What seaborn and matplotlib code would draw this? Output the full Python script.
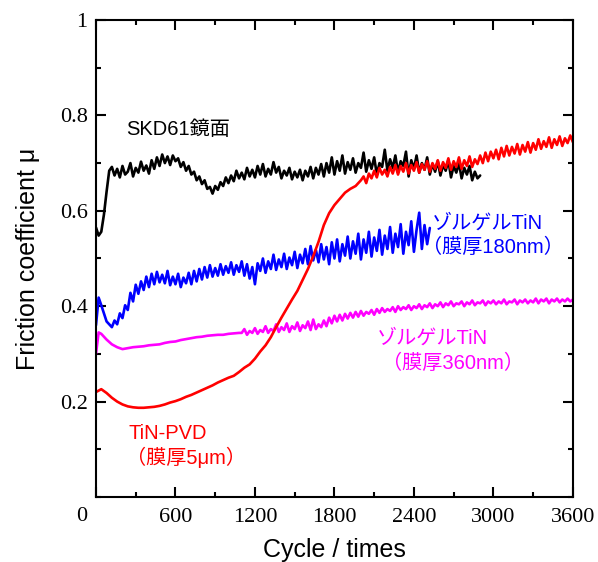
import matplotlib
matplotlib.use("Agg")
import matplotlib.pyplot as plt
import seaborn as sns
import pandas as pd
from matplotlib.ticker import MultipleLocator

# ---------------- data ----------------
# SKD61 mirror: sampled every 20 cycles from 0
skd_step = 20
skd_y = [0.565, 0.548, 0.556, 0.592, 0.640, 0.684, 0.692, 0.674, 0.688, 0.670,
         0.694, 0.676, 0.682, 0.700, 0.672, 0.690, 0.680, 0.703, 0.684, 0.695,
         0.678, 0.706, 0.688, 0.712, 0.694, 0.718, 0.700, 0.714, 0.696, 0.716,
         0.704, 0.710, 0.692, 0.702, 0.684, 0.694, 0.676, 0.682, 0.664, 0.672,
         0.656, 0.664, 0.646, 0.650, 0.636, 0.652, 0.644, 0.660, 0.652, 0.670,
         0.658, 0.674, 0.662, 0.684, 0.668, 0.680, 0.666, 0.690, 0.672, 0.686,
         0.670, 0.694, 0.676, 0.698, 0.672, 0.688, 0.676, 0.702, 0.680, 0.692,
         0.668, 0.684, 0.674, 0.690, 0.666, 0.682, 0.670, 0.686, 0.664, 0.684,
         0.672, 0.692, 0.668, 0.690, 0.676, 0.698, 0.672, 0.700, 0.680, 0.712,
         0.676, 0.704, 0.684, 0.716, 0.678, 0.702, 0.686, 0.710, 0.680, 0.700,
         0.690, 0.722, 0.682, 0.706, 0.688, 0.712, 0.676, 0.700, 0.692, 0.728,
         0.684, 0.708, 0.690, 0.716, 0.680, 0.704, 0.694, 0.724, 0.672, 0.706,
         0.688, 0.716, 0.680, 0.700, 0.686, 0.712, 0.676, 0.698, 0.682, 0.704,
         0.674, 0.696, 0.684, 0.706, 0.670, 0.694, 0.680, 0.700, 0.668, 0.690,
         0.676, 0.694, 0.664, 0.682, 0.668, 0.674]

# Sol-gel TiN 180 nm: sampled every 20 cycles from 0
sg180_step = 20
sg180_y = [0.360, 0.418, 0.402, 0.385, 0.368, 0.362, 0.356, 0.370, 0.362, 0.385,
           0.375, 0.402, 0.392, 0.428, 0.410, 0.445, 0.426, 0.452, 0.434, 0.462,
           0.440, 0.468, 0.446, 0.472, 0.450, 0.466, 0.448, 0.474, 0.444, 0.462,
           0.446, 0.468, 0.440, 0.460, 0.448, 0.470, 0.446, 0.474, 0.452, 0.478,
           0.456, 0.482, 0.460, 0.486, 0.462, 0.480, 0.464, 0.488, 0.466, 0.484,
           0.470, 0.492, 0.466, 0.486, 0.472, 0.494, 0.464, 0.488, 0.458, 0.482,
           0.446, 0.490, 0.474, 0.500, 0.470, 0.494, 0.478, 0.508, 0.476, 0.498,
           0.482, 0.510, 0.478, 0.502, 0.486, 0.514, 0.480, 0.508, 0.490, 0.520,
           0.488, 0.526, 0.496, 0.518, 0.492, 0.530, 0.498, 0.524, 0.488, 0.534,
           0.500, 0.540, 0.494, 0.530, 0.506, 0.546, 0.500, 0.536, 0.510, 0.552,
           0.498, 0.540, 0.512, 0.556, 0.504, 0.544, 0.516, 0.560, 0.508, 0.548,
           0.520, 0.566, 0.512, 0.552, 0.524, 0.572, 0.510, 0.556, 0.528, 0.578,
           0.514, 0.560, 0.596, 0.520, 0.570, 0.530, 0.564]

# Sol-gel TiN 360 nm: early part read at irregular cycles, later every 20 cycles
sg360_early_x = [0, 20, 40, 80, 120, 160, 200, 240, 280, 320, 360, 400, 440, 480,
                 520, 560, 600, 640, 680, 720, 760, 800, 840, 880, 920, 960, 1000,
                 1040, 1080]
sg360_early_y = [0.300, 0.345, 0.342, 0.330, 0.320, 0.314, 0.310, 0.312, 0.314,
                 0.315, 0.316, 0.318, 0.319, 0.320, 0.323, 0.325, 0.326, 0.329,
                 0.331, 0.333, 0.335, 0.336, 0.338, 0.339, 0.340, 0.340, 0.342,
                 0.343, 0.344]
sg360_late_start = 1100
sg360_late_step = 20
sg360_late_y = [0.344, 0.352, 0.340, 0.348, 0.344, 0.354, 0.342, 0.350, 0.346, 0.358,
                0.344, 0.352, 0.348, 0.362, 0.346, 0.356, 0.350, 0.364, 0.346, 0.358,
                0.352, 0.366, 0.348, 0.360, 0.354, 0.368, 0.350, 0.372, 0.352, 0.362,
                0.356, 0.370, 0.358, 0.376, 0.364, 0.380, 0.368, 0.382, 0.370, 0.384,
                0.374, 0.386, 0.376, 0.388, 0.378, 0.390, 0.380, 0.388, 0.384, 0.392,
                0.382, 0.394, 0.386, 0.396, 0.388, 0.394, 0.390, 0.398, 0.388, 0.400,
                0.392, 0.398, 0.394, 0.402, 0.392, 0.400, 0.396, 0.404, 0.394, 0.402,
                0.398, 0.406, 0.396, 0.404, 0.400, 0.408, 0.398, 0.406, 0.402, 0.410,
                0.400, 0.406, 0.404, 0.410, 0.400, 0.408, 0.404, 0.412, 0.402, 0.408,
                0.406, 0.412, 0.402, 0.410, 0.406, 0.412, 0.404, 0.410, 0.406, 0.414,
                0.404, 0.410, 0.408, 0.414, 0.404, 0.412, 0.408, 0.414, 0.406, 0.412,
                0.408, 0.416, 0.406, 0.414, 0.410, 0.416, 0.406, 0.414, 0.410, 0.416,
                0.408, 0.414, 0.410, 0.416, 0.410, 0.414]

# TiN-PVD: smooth part every 40 cycles, noisy part every 20 cycles
pvd_early_x = [0, 40, 80, 120, 160, 200, 240, 280, 320, 360, 400, 440, 480, 520, 560,
               600, 640, 680, 720, 760, 800, 840, 880, 920, 960, 1000, 1040, 1080,
               1120, 1160, 1200, 1240, 1280, 1320, 1360, 1400, 1440, 1480, 1520, 1560,
               1600, 1640, 1680, 1720, 1760, 1800, 1840, 1880, 1920, 1960]
pvd_early_y = [0.220, 0.226, 0.218, 0.208, 0.200, 0.194, 0.190, 0.188, 0.187, 0.187,
               0.188, 0.189, 0.191, 0.194, 0.198, 0.201, 0.205, 0.210, 0.214, 0.219,
               0.224, 0.229, 0.234, 0.240, 0.245, 0.250, 0.254, 0.262, 0.271, 0.278,
               0.290, 0.305, 0.318, 0.335, 0.356, 0.376, 0.395, 0.414, 0.432, 0.455,
               0.478, 0.505, 0.535, 0.570, 0.595, 0.612, 0.625, 0.638, 0.646, 0.652]
pvd_late_start = 2000
pvd_late_step = 20
pvd_late_y = [0.664, 0.672, 0.658, 0.678, 0.668, 0.684, 0.670, 0.690, 0.676, 0.686,
              0.672, 0.692, 0.678, 0.696, 0.676, 0.694, 0.682, 0.700, 0.678, 0.696,
              0.684, 0.702, 0.680, 0.698, 0.686, 0.704, 0.682, 0.700, 0.688, 0.706,
              0.684, 0.702, 0.690, 0.710, 0.686, 0.704, 0.692, 0.712, 0.688, 0.706,
              0.694, 0.714, 0.692, 0.708, 0.698, 0.716, 0.700, 0.722, 0.704, 0.724,
              0.710, 0.728, 0.708, 0.732, 0.714, 0.736, 0.716, 0.734, 0.720, 0.740,
              0.718, 0.738, 0.724, 0.744, 0.722, 0.742, 0.728, 0.750, 0.730, 0.746,
              0.734, 0.754, 0.732, 0.750, 0.738, 0.756, 0.736, 0.752, 0.742, 0.758,
              0.744]

series_names = ["SKD61", "SG180", "SG360", "PVD"]
series_colors = ["#000000", "#0000FF", "#FF00FF", "#FF0000"]

x_ticks = [0, 600, 1200, 1800, 2400, 3000, 3600]
x_ticklabels = ["", "600", "1200", "1800", "2400", "3000", "3600"]
y_ticks = [0.2, 0.4, 0.6, 0.8, 1.0]
y_ticklabels = ["0.2", "0.4", "0.6", "0.8", "1"]

# ---------------- build long table ----------------
skd_x = [skd_step * i for i in range(len(skd_y))]
sg180_x = [sg180_step * i for i in range(len(sg180_y))]
sg360_x = sg360_early_x + [sg360_late_start + sg360_late_step * i for i in range(len(sg360_late_y))]
sg360_y = sg360_early_y + sg360_late_y
pvd_x = pvd_early_x + [pvd_late_start + pvd_late_step * i for i in range(len(pvd_late_y))]
pvd_y = pvd_early_y + pvd_late_y

frames = []
for name, xs, ys in [("SKD61", skd_x, skd_y), ("SG180", sg180_x, sg180_y),
                     ("SG360", sg360_x, sg360_y), ("PVD", pvd_x, pvd_y)]:
    frames.append(pd.DataFrame({"cycle": xs, "mu": ys, "sample": name}))
df = pd.concat(frames, ignore_index=True)

sns.set_theme(style="white")
plt.rcParams["font.family"] = ["Liberation Sans", "DejaVu Sans"]
plt.rcParams["text.color"] = "black"
plt.rcParams["axes.labelcolor"] = "black"
plt.rcParams["xtick.color"] = "black"
plt.rcParams["ytick.color"] = "black"

fig = plt.figure(figsize=(5.98, 5.62), dpi=100)
ax = fig.add_axes([0.1605, 0.1157, 0.7975, 0.8487])

sns.lineplot(data=df, x="cycle", y="mu", hue="sample", hue_order=series_names,
             palette=dict(zip(series_names, series_colors)), estimator=None,
             sort=False, legend=False, linewidth=1.9, ax=ax)

ax.set_xlim(0, 3600)
ax.set_ylim(0, 1)
ax.set_xticks(x_ticks)
ax.set_xticklabels(x_ticklabels, family="Liberation Serif", fontsize=16, color="black")
ax.set_yticks(y_ticks)
ax.set_yticklabels(y_ticklabels, family="Liberation Serif", fontsize=16, color="black")
ax.xaxis.set_minor_locator(MultipleLocator(300))
ax.yaxis.set_minor_locator(MultipleLocator(0.1))
ax.tick_params(which="both", direction="in", top=True, right=True, bottom=True,
               left=True, width=1.5, color="black")
ax.tick_params(which="major", length=7)
ax.tick_params(which="minor", length=3.5)
ax.tick_params(axis="x", which="major", pad=8)
ax.tick_params(axis="y", which="major", pad=6)
for s in ax.spines.values():
    s.set_visible(True)
    s.set_linewidth(1.5)
    s.set_color("black")

# corner "0"
ax.annotate("0", xy=(0, 0), xycoords="axes fraction", xytext=(-14, -10),
            textcoords="offset pixels", ha="center", va="top",
            family="Liberation Serif", fontsize=16, color="black")

ax.set_xlabel("Cycle / times", fontsize=18, labelpad=8, color="black")
ax.set_ylabel("Friction coefficient μ", fontsize=18, labelpad=14, color="black")

jp = ["Liberation Sans", "Noto Sans CJK JP", "DejaVu Sans"]
fs = 14.5
ax.text(228, 0.77, "SKD61鏡面", family=jp, fontsize=fs, color="black", va="center")
ax.text(2535, 0.574, "ゾルゲルTiN", family=jp, fontsize=fs, color="#0000FF", va="center")
ax.text(2460, 0.524, "（膜厚180nm）", family=jp, fontsize=fs, color="#0000FF", va="center")
ax.text(2122, 0.333, "ゾルゲルTiN", family=jp, fontsize=fs, color="#FF00FF", va="center")
ax.text(2160, 0.280, "（膜厚360nm）", family=jp, fontsize=fs, color="#FF00FF", va="center")
ax.text(247, 0.134, "TiN-PVD", family=jp, fontsize=fs, color="#FF0000", va="center")
ax.text(225, 0.082, "（膜厚5μm）", family=jp, fontsize=fs, color="#FF0000", va="center")

fig.savefig("out.png", dpi=100)
